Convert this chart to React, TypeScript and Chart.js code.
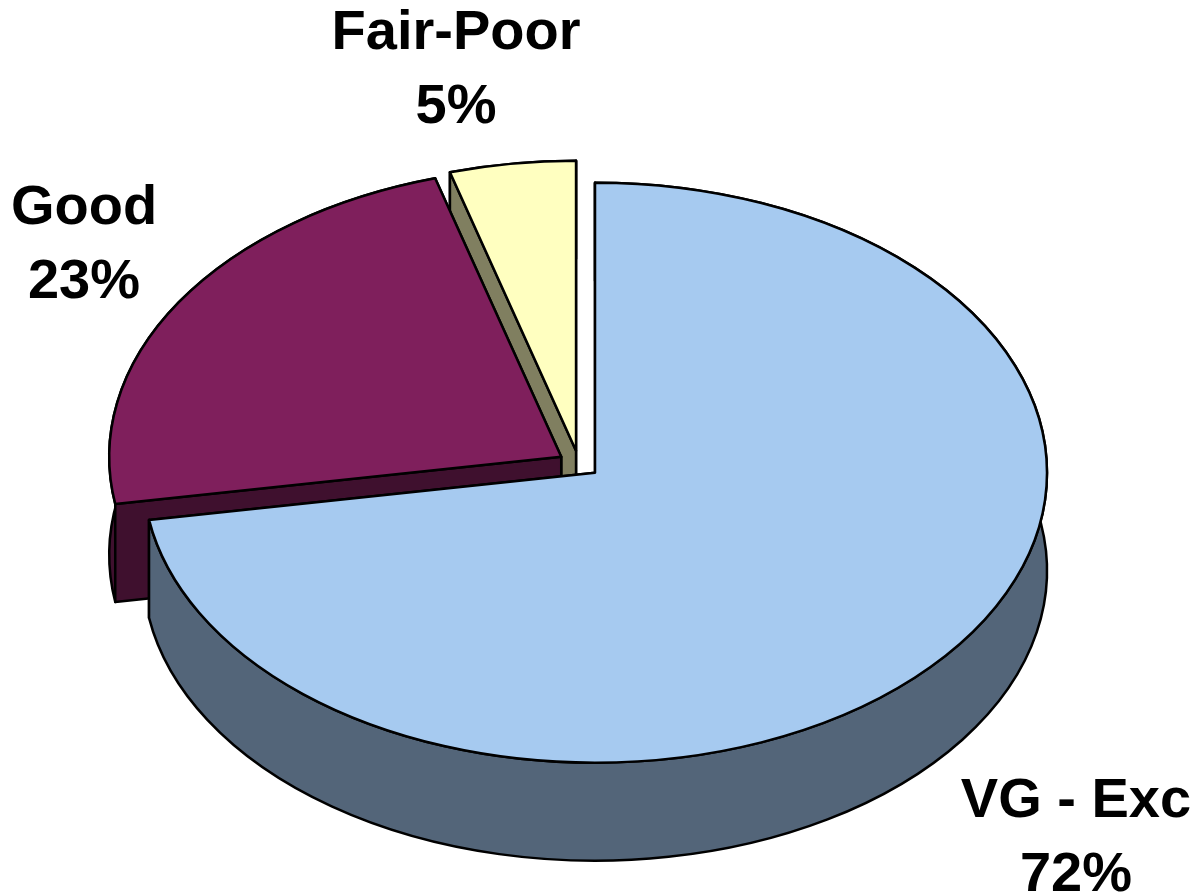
import React, { useEffect, useRef } from "react";
import { Chart, registerables } from "chart.js";

Chart.register(...registerables);

const categories = ["VG - Exc", "Good", "Fair-Poor"];
const values = [72.4, 23.1, 4.5];
const percentLabels = ["72%", "23%", "5%"];
const topColors = ["#A6CAF0", "#7F1F5C", "#FFFFC0"];
const wallColors = ["#536579", "#3F102E", "#807F60"];
const labelAnchors = [
  { x: 1076, y: 802 },
  { x: 84, y: 209 },
  { x: 456, y: 34 },
];

const RX = 452;
const RY = 290;
const DEPTH = 98;
const EXPLODE = 21;
const LINE = 74;

const pie3d = {
  id: "pie3d",
  beforeDatasetDraw(chart: any) {
    const ctx: CanvasRenderingContext2D = chart.ctx;
    const arcs = chart.getDatasetMeta(0).data;
    // painted back to front
    [2, 1, 0].forEach((i) => {
      const a = arcs[i];
      const { x, y, startAngle, endAngle } = a.getProps(
        ["x", "y", "startAngle", "endAngle"],
        true
      );
      const mid = (startAngle + endAngle) / 2;
      const cx = x + Math.cos(mid) * EXPLODE;
      const cy = y + Math.sin(mid) * EXPLODE * (RY / RX);
      const px = (t: number) => cx + Math.cos(t) * RX;
      const py = (t: number) => cy + Math.sin(t) * RY;

      ctx.save();
      ctx.lineWidth = 2.5;
      ctx.lineJoin = "round";
      ctx.strokeStyle = "#000";

      const face = (draw: () => void, fill: string) => {
        ctx.beginPath();
        draw();
        ctx.closePath();
        ctx.fillStyle = fill;
        ctx.fill();
        ctx.stroke();
      };
      const radial = (t: number) => () => {
        ctx.moveTo(cx, cy);
        ctx.lineTo(px(t), py(t));
        ctx.lineTo(px(t), py(t) + DEPTH);
        ctx.lineTo(cx, cy + DEPTH);
      };
      face(radial(endAngle), wallColors[i]);
      face(() => {
        ctx.ellipse(cx, cy, RX, RY, 0, startAngle, endAngle);
        ctx.ellipse(cx, cy + DEPTH, RX, RY, 0, endAngle, startAngle, true);
      }, wallColors[i]);
      face(radial(startAngle), wallColors[i]);
      face(() => {
        ctx.moveTo(cx, cy);
        ctx.ellipse(cx, cy, RX, RY, 0, startAngle, endAngle);
      }, a.options.backgroundColor);
      ctx.restore();
    });
    return false;
  },
  afterDraw(chart: any) {
    const ctx: CanvasRenderingContext2D = chart.ctx;
    ctx.save();
    ctx.fillStyle = "#000";
    ctx.font = 'bold 56px "Liberation Sans", Arial, sans-serif';
    ctx.textAlign = "center";
    ctx.textBaseline = "middle";
    categories.forEach((name, i) => {
      const p = labelAnchors[i];
      ctx.fillText(name, p.x, p.y);
      ctx.fillText(percentLabels[i], p.x, p.y + LINE);
    });
    ctx.restore();
  },
};

export default function App() {
  const ref = useRef<HTMLCanvasElement | null>(null);
  useEffect(() => {
    document.body.style.margin = "0";
    document.body.style.background = "#fff";
    const chart = new Chart(ref.current as HTMLCanvasElement, {
      type: "pie",
      data: {
        labels: categories,
        datasets: [{ data: values, backgroundColor: topColors, borderWidth: 0 }],
      },
      options: {
        animation: false,
        responsive: false,
        layout: { padding: { top: 34, right: 38, left: 0, bottom: 0 } },
        plugins: { legend: { display: false }, tooltip: { enabled: false } },
      },
      plugins: [pie3d],
    } as any);
    return () => chart.destroy();
  }, []);
  return <canvas ref={ref} width={1196} height={894} style={{ display: "block" }} />;
}
